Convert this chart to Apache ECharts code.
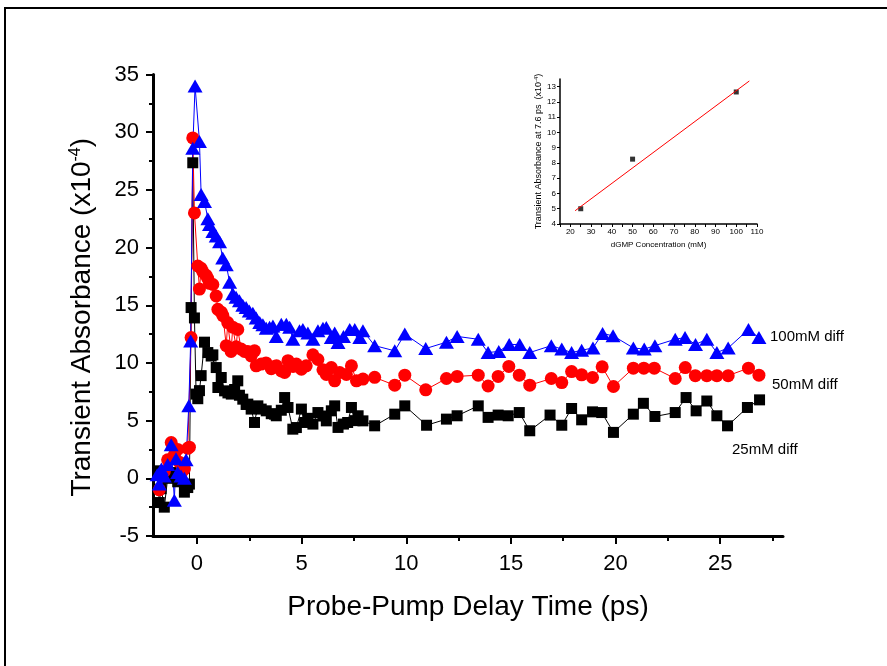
<!DOCTYPE html>
<html>
<head>
<meta charset="utf-8">
<script src="https://cdn.jsdelivr.net/npm/echarts@6/dist/echarts.min.js"></script>
<style>html,body{margin:0;padding:0;background:#fff}#c{width:887px;height:666px}</style>
</head>
<body>
<div id="c"></div>
<script>
// ---- main chart data (delay in ps, transient absorbance x10^-4) ----
const x100 = [-1.9,-1.8,-1.7,-1.56,-1.4,-1.23,-1.08,-1.0,-0.92,-0.76,-0.6,-0.52,-0.39,-0.3,-0.2,-0.09,0.12,0.2,0.36,0.52,0.6,0.76,0.92,1.08,1.23,1.4,1.56,1.71,1.87,2.03,2.19,2.35,2.5,2.67,2.83,3.0,3.15,3.31,3.47,3.63,3.79,4.03,4.27,4.43,4.58,4.9,5.06,5.3,5.54,5.78,6.02,6.18,6.42,6.58,6.74,7.0,7.3,7.54,7.78,7.93,8.49,9.45,9.93,10.93,11.92,12.43,13.44,13.91,14.42,14.92,15.42,15.9,16.93,17.43,17.9,18.38,18.92,19.38,19.88,20.85,21.37,21.88,22.85,23.32,23.82,24.36,24.84,25.38,26.35,26.85];
const y100 = [0.3,-0.5,0.8,0.2,1.2,2.9,-1.9,1.7,0.5,0.2,0.0,1.6,6.3,11.9,28.6,34.0,29.2,24.6,24.0,22.5,22.0,21.4,21.0,20.5,19.1,18.5,17.0,16.0,15.7,15.4,15.0,14.8,14.5,14.3,13.9,13.5,13.3,13.0,13.1,13.2,12.3,13.35,13.35,13.1,12.05,12.8,12.9,12.6,12.05,12.8,13.0,13.07,12.2,12.6,11.77,12.3,12.9,12.9,12.2,12.8,11.5,11.05,12.5,11.25,11.8,12.3,12.05,10.9,11.0,11.6,11.6,10.9,11.5,11.2,10.9,11.1,11.3,12.55,12.35,11.3,11.2,11.5,12.05,12.2,11.6,12.05,10.9,11.3,12.9,12.2];

const x50 = [-1.8,-1.71,-1.56,-1.4,-1.23,-1.08,-0.92,-0.84,-0.76,-0.6,-0.44,-0.36,-0.28,-0.2,-0.12,0.04,0.12,0.2,0.28,0.44,0.52,0.6,0.76,0.92,1.0,1.16,1.24,1.4,1.47,1.63,1.71,1.87,1.95,2.11,2.27,2.43,2.59,2.75,2.83,3.07,3.3,3.55,3.71,3.8,4.03,4.19,4.35,4.59,4.75,4.99,5.22,5.54,5.78,6.02,6.18,6.42,6.58,6.82,7.14,7.38,7.62,7.93,8.49,9.45,9.93,10.93,11.92,12.43,13.44,13.91,14.39,14.9,15.4,15.9,16.93,17.43,17.9,18.38,18.9,19.36,19.9,20.85,21.35,21.85,22.85,23.33,23.81,24.36,24.84,25.38,26.35,26.85];
const y50 = [-1.0,0.2,0.6,1.6,3.1,2.0,2.5,1.4,0.4,0.8,2.6,2.7,12.2,29.5,23.0,18.4,16.4,18.2,17.9,17.6,17.3,16.9,16.8,15.8,14.65,14.4,14.1,11.5,13.5,11.0,13.1,11.4,12.9,11.2,11.0,11.0,10.6,11.05,9.75,9.9,10.0,9.5,9.7,9.75,9.3,9.17,10.2,9.7,9.9,9.46,9.75,10.7,10.3,9.4,9.0,9.6,8.45,9.17,9.0,9.75,8.45,8.6,8.75,8.07,8.94,7.67,8.65,8.83,8.94,8.0,8.83,9.7,8.94,8.07,8.65,8.3,9.25,8.97,8.74,9.66,7.96,9.55,9.55,9.55,8.65,9.6,8.9,8.9,8.9,8.9,9.55,8.94];

const x25 = [-1.88,-1.8,-1.71,-1.56,-1.4,-1.23,-1.08,-0.92,-0.76,-0.6,-0.44,-0.36,-0.28,-0.2,-0.12,-0.04,0.04,0.12,0.2,0.36,0.52,0.68,0.76,0.92,1.0,1.16,1.32,1.48,1.64,1.8,1.95,2.03,2.19,2.35,2.43,2.59,2.75,2.91,3.07,3.31,3.55,3.71,3.79,4.03,4.19,4.35,4.58,4.75,4.99,5.14,5.3,5.54,5.78,6.02,6.18,6.42,6.58,6.74,7.0,7.2,7.38,7.54,7.7,7.93,8.49,9.45,9.93,10.97,11.92,12.43,13.44,13.91,14.39,14.87,15.4,15.9,16.87,17.43,17.9,18.38,18.9,19.34,19.9,20.85,21.33,21.88,22.85,23.37,23.85,24.36,24.84,25.35,26.3,26.88];
const y25 = [0.65,-2.1,-0.9,-2.5,0.0,0.5,0.2,-0.3,0.3,-1.2,-0.8,-0.5,14.8,27.35,13.9,7.3,6.9,7.6,8.9,11.8,10.9,10.6,10.7,9.6,7.87,8.74,7.58,7.4,7.3,7.7,8.45,7.2,6.86,6.4,6.43,6.0,4.84,6.28,6.0,5.85,5.6,5.56,5.42,5.9,7.0,6.14,4.26,4.4,6.0,4.84,5.2,4.7,5.7,5.4,4.98,5.85,6.28,4.41,4.7,4.84,6.14,5.0,5.42,4.98,4.55,5.56,6.28,4.6,5.13,5.42,6.28,5.28,5.48,5.42,5.7,4.12,5.48,4.6,6.05,5.07,5.76,5.7,3.98,5.56,6.5,5.36,5.7,7.0,5.85,6.7,5.42,4.55,6.14,6.8];

const xTickValues = [0,5,10,15,20,25];
const xMinorValues = [2.5,7.5,12.5,17.5,22.5,27.5];
const seriesNames = ['25mM diff','50mM diff','100mM diff'];

// ---- inset data ----
const insetConc = [25,50,100];
const insetAbs = [5.0,8.25,12.65];
const fitX = [22.3,106.3];
const fitY = [4.87,13.37];

const zip = (xs, ys) => xs.map((v, i) => [v, ys[i]]);
const FONT = 'Liberation Sans';

const chart = echarts.init(document.getElementById('c'), null, {renderer: 'canvas'});

const option = {
  backgroundColor: '#fff',
  animation: false,
  grid: [
    {left: 153, top: 74.5, width: 630, height: 461.5, containLabel: false},
    {left: 560, top: 79, width: 197, height: 145, containLabel: false}
  ],
  xAxis: [
    {
      gridIndex: 0, type: 'value', min: -2.1, max: 28,
      axisLine: {show: true, onZero: false, lineStyle: {color: '#000', width: 3}},
      axisTick: {show: true, customValues: xTickValues, length: 8, lineStyle: {color: '#000', width: 2}},
      axisLabel: {show: true, customValues: xTickValues, margin: 17, color: '#000', fontFamily: FONT, fontSize: 22},
      splitLine: {show: false},
      name: 'Probe-Pump Delay Time (ps)', nameLocation: 'middle', nameGap: 57,
      nameTextStyle: {color: '#000', fontFamily: FONT, fontSize: 28}
    },
    {
      gridIndex: 0, type: 'value', min: -2.1, max: 28, position: 'bottom',
      axisLine: {show: false, onZero: false},
      axisTick: {show: true, customValues: xMinorValues, length: 5, lineStyle: {color: '#000', width: 2}},
      axisLabel: {show: false},
      splitLine: {show: false}
    },
    {
      gridIndex: 1, type: 'value', min: 15, max: 110, interval: 5,
      axisLine: {show: true, onZero: false, lineStyle: {color: '#000', width: 1.5}},
      axisTick: {show: true, length: 3, lineStyle: {color: '#000', width: 1}},
      axisLabel: {show: true, margin: 4, color: '#000', fontFamily: FONT, fontSize: 8,
        formatter: v => (v % 10 === 0 ? String(v) : '')},
      splitLine: {show: false},
      name: 'dGMP Concentration (mM)', nameLocation: 'middle', nameGap: 17,
      nameTextStyle: {color: '#000', fontFamily: FONT, fontSize: 8}
    }
  ],
  yAxis: [
    {
      gridIndex: 0, type: 'value', min: -5, max: 35, interval: 5,
      axisLine: {show: true, onZero: false, lineStyle: {color: '#000', width: 3}},
      axisTick: {show: true, length: 7, lineStyle: {color: '#000', width: 2}},
      minorTick: {show: true, splitNumber: 2, length: 4, lineStyle: {color: '#000', width: 2}},
      axisLabel: {show: true, margin: 14, color: '#000', fontFamily: FONT, fontSize: 22},
      splitLine: {show: false},
      name: '{a|Transient Absorbance (x10}{s|-4}{a|)}', nameLocation: 'middle', nameGap: 57, nameRotate: 90,
      nameTextStyle: {color: '#000', fontFamily: FONT, fontSize: 28, padding: [0, 24, 0, 0],
        rich: {a: {fontFamily: FONT, fontSize: 28, color: '#000'},
               s: {fontFamily: FONT, fontSize: 16, color: '#000', verticalAlign: 'top', padding: [0,0,12,0]}}}
    },
    {
      gridIndex: 1, type: 'value', min: 4, max: 13.5, interval: 1,
      axisLine: {show: true, onZero: false, lineStyle: {color: '#000', width: 1.5}},
      axisTick: {show: true, length: 3, lineStyle: {color: '#000', width: 1}},
      axisLabel: {show: true, margin: 4, color: '#000', fontFamily: FONT, fontSize: 8},
      splitLine: {show: false},
      name: '{a|Transient Absorbance at 7.6 ps  (x10}{s|-4}{a|)}', nameLocation: 'middle', nameGap: 14, nameRotate: 90,
      nameTextStyle: {color: '#000', fontFamily: FONT, fontSize: 9,
        rich: {a: {fontFamily: FONT, fontSize: 9, color: '#000'},
               s: {fontFamily: FONT, fontSize: 6, color: '#000', padding: [0,0,4,0]}}}
    }
  ],
  series: [
    {
      name: seriesNames[0], type: 'line', xAxisIndex: 0, yAxisIndex: 0,
      data: zip(x25, y25), symbol: 'rect', symbolSize: 11,
      lineStyle: {color: '#000', width: 1}, itemStyle: {color: '#000'}
    },
    {
      name: seriesNames[1], type: 'line', xAxisIndex: 0, yAxisIndex: 0,
      data: zip(x50, y50), symbol: 'circle', symbolSize: 13,
      lineStyle: {color: '#f00', width: 1}, itemStyle: {color: '#f00'}
    },
    {
      name: seriesNames[2], type: 'line', xAxisIndex: 0, yAxisIndex: 0,
      data: zip(x100, y100), symbol: 'triangle', symbolSize: [15, 13],
      lineStyle: {color: '#00f', width: 1}, itemStyle: {color: '#00f'}
    },
    {
      name: 'fit', type: 'line', xAxisIndex: 2, yAxisIndex: 1,
      data: zip(fitX, fitY), symbol: 'none',
      lineStyle: {color: '#f00', width: 1}
    },
    {
      name: 'inset', type: 'scatter', xAxisIndex: 2, yAxisIndex: 1,
      data: zip(insetConc, insetAbs), symbol: 'rect', symbolSize: 5,
      itemStyle: {color: '#000'}
    }
  ],
  graphic: [
    {type: 'rect', shape: {x: 5, y: 8, width: 900, height: 700}, style: {fill: 'none', stroke: '#000', lineWidth: 2}, silent: true},
    {type: 'text', left: 770, top: 329, style: {text: seriesNames[2], fill: '#000', font: '15px "Liberation Sans"'}},
    {type: 'text', left: 772, top: 377, style: {text: seriesNames[1], fill: '#000', font: '15px "Liberation Sans"'}},
    {type: 'text', left: 732, top: 442, style: {text: seriesNames[0], fill: '#000', font: '15px "Liberation Sans"'}}
  ]
};
chart.setOption(option);
</script>
</body>
</html>
